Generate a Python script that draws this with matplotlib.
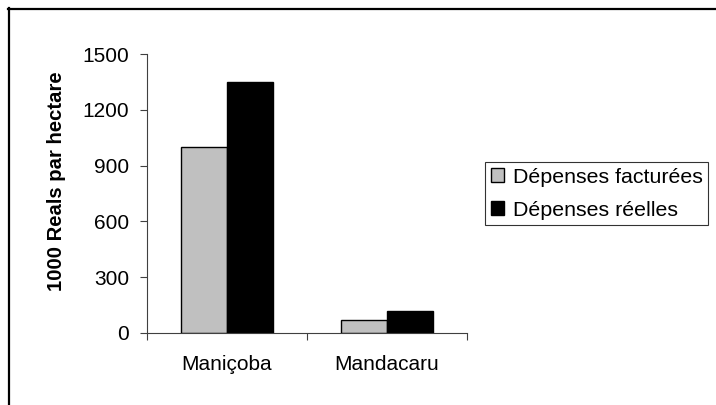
import matplotlib
matplotlib.use("Agg")
import matplotlib.pyplot as plt
from matplotlib.lines import Line2D
import numpy as np

categories = ["Maniçoba", "Mandacaru"]
depenses_facturees = [1000, 70]
depenses_reelles = [1350, 120]
series_labels = ["Dépenses facturées", "Dépenses réelles"]
y_ticks = [0, 300, 600, 900, 1200, 1500]

plt.rcParams["font.family"] = ["Liberation Sans", "DejaVu Sans"]

W, H = 716, 405
fig = plt.figure(figsize=(W / 100, H / 100), dpi=100)
ax = fig.add_axes([147 / W, 1 - 333 / H, 320 / W, 279 / H])

x = np.arange(len(categories))
bw = 0.29
ax.bar(x - bw / 2, depenses_facturees, bw, color="#c0c0c0", edgecolor="black",
       linewidth=1.0, label=series_labels[0])
ax.bar(x + bw / 2, depenses_reelles, bw, color="black", edgecolor="black",
       linewidth=1.0, label=series_labels[1])

ax.set_xlim(-0.5, len(categories) - 0.5)
ax.set_ylim(0, 1500)
ax.set_yticks(y_ticks)
ax.tick_params(axis="y", labelsize=15, length=5, width=0.8, color="#404040", pad=8)
ax.set_xticks(x)
ax.set_xticklabels(categories)
ax.tick_params(axis="x", which="major", labelsize=15, length=0, pad=16)
ax.set_xticks(np.arange(len(categories) + 1) - 0.5, minor=True)
ax.tick_params(axis="x", which="minor", length=5, width=0.8, color="#404040")

for side in ("top", "right"):
    ax.spines[side].set_visible(False)
for side in ("left", "bottom"):
    ax.spines[side].set_color("#404040")
    ax.spines[side].set_linewidth(0.8)

ax.set_ylabel("1000 Reals par hectare", fontsize=14.6, fontweight="bold", labelpad=12)
ax.yaxis.label.set_y(0.545)

leg = fig.legend(loc="upper left", bbox_to_anchor=(485 / W, 1 - 162 / H),
                 fontsize=15.4, frameon=True, fancybox=False, borderaxespad=0,
                 handlelength=0.62, handleheight=0.62, handletextpad=0.42,
                 borderpad=0.26, labelspacing=0.66)
leg.get_frame().set_edgecolor("black")
leg.get_frame().set_linewidth(0.8)

# figure border (top and left only, the rest is cropped)
fig.add_artist(Line2D([8 / W, 1], [1 - 9 / H, 1 - 9 / H], color="black", lw=1.6,
                      transform=fig.transFigure))
fig.add_artist(Line2D([9 / W, 9 / W], [0, 1 - 8 / H], color="black", lw=1.6,
                      transform=fig.transFigure))

fig.savefig("out.png", dpi=100)
